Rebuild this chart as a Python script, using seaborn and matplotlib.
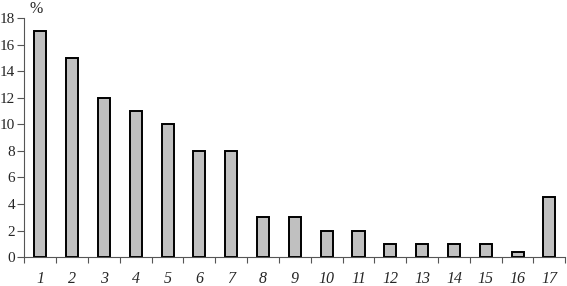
import numpy as np
import pandas as pd
import seaborn as sns
import matplotlib.pyplot as plt

categories = [str(i) for i in range(1, 18)]
values = [17, 15, 12, 11, 10, 8, 8, 3, 3, 2, 2, 1, 1, 1, 1, 0.4, 4.5]
y_ticks = [0, 2, 4, 6, 8, 10, 12, 14, 16, 18]

df = pd.DataFrame({'cat': categories, 'pct': values})

sns.set_style('white')
plt.rcParams['font.family'] = ['Liberation Serif', 'DejaVu Serif']

fig = plt.figure(figsize=(5.67, 2.86), dpi=100)
ax = fig.add_axes([0.043, 0.101, 0.954, 0.836])

sns.barplot(data=df, x='cat', y='pct', order=categories, color='#c0c0c0',
            edgecolor='black', linewidth=1.4, width=0.38, saturation=1, ax=ax)

ax.set_xlim(-0.5, len(categories) - 0.5)
ax.set_ylim(0, 18)
ax.set_yticks(y_ticks)
ax.set_yticklabels([str(t) for t in y_ticks], fontsize=11)
ax.set_xticklabels(categories, fontsize=11.5, style='italic')
ax.set_xlabel('')
ax.set_ylabel('')

# tick marks sit between categories, labels at the centre
ax.set_xticks(np.arange(-0.5, len(categories), 1), minor=True)
ax.tick_params(axis='x', which='major', length=0, pad=10)
ax.tick_params(axis='x', which='minor', length=4, width=0.8, color='#555555', direction='out', bottom=True)
ax.tick_params(axis='y', length=5, width=0.8, color='#555555', direction='out', left=True, pad=1.5)

for s in ['top', 'right']:
    ax.spines[s].set_visible(False)
for s in ['left', 'bottom']:
    ax.spines[s].set_color('#555555')
    ax.spines[s].set_linewidth(0.8)

ax.text(-0.12, 1.005, '%', transform=ax.get_xaxis_transform(), fontsize=11.5, ha='center', va='bottom')

fig.savefig('out.png', dpi=100)
